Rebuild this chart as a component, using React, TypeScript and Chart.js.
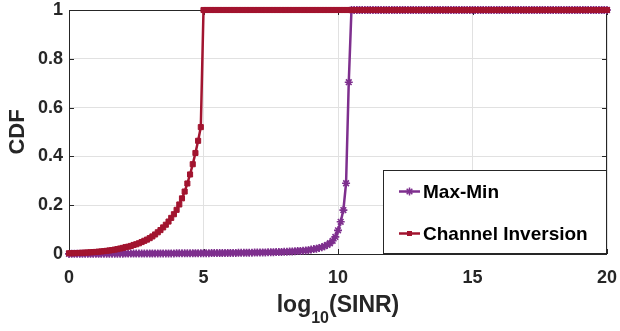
import { useEffect, useRef } from "react";
import { Chart, registerables } from "chart.js";

Chart.register(...registerables);

// log10(SINR) sample grid
const X_SINR = [
  0.0, 0.1, 0.2, 0.3, 0.4, 0.5, 0.6, 0.7, 0.8, 0.9,
  1.0, 1.1, 1.2, 1.3, 1.4, 1.5, 1.6, 1.7, 1.8, 1.9,
  2.0, 2.1, 2.2, 2.3, 2.4, 2.5, 2.6, 2.7, 2.8, 2.9,
  3.0, 3.1, 3.2, 3.3, 3.4, 3.5, 3.6, 3.7, 3.8, 3.9,
  4.0, 4.1, 4.2, 4.3, 4.4, 4.5, 4.6, 4.7, 4.8, 4.9,
  5.0, 5.1, 5.2, 5.3, 5.4, 5.5, 5.6, 5.7, 5.8, 5.9,
  6.0, 6.1, 6.2, 6.3, 6.4, 6.5, 6.6, 6.7, 6.8, 6.9,
  7.0, 7.1, 7.2, 7.3, 7.4, 7.5, 7.6, 7.7, 7.8, 7.9,
  8.0, 8.1, 8.2, 8.3, 8.4, 8.5, 8.6, 8.7, 8.8, 8.9,
  9.0, 9.1, 9.2, 9.3, 9.4, 9.5, 9.6, 9.7, 9.8, 9.9,
  10.0, 10.1, 10.2, 10.3, 10.4, 10.5, 10.6, 10.7, 10.8, 10.9,
  11.0, 11.1, 11.2, 11.3, 11.4, 11.5, 11.6, 11.7, 11.8, 11.9,
  12.0, 12.1, 12.2, 12.3, 12.4, 12.5, 12.6, 12.7, 12.8, 12.9,
  13.0, 13.1, 13.2, 13.3, 13.4, 13.5, 13.6, 13.7, 13.8, 13.9,
  14.0, 14.1, 14.2, 14.3, 14.4, 14.5, 14.6, 14.7, 14.8, 14.9,
  15.0, 15.1, 15.2, 15.3, 15.4, 15.5, 15.6, 15.7, 15.8, 15.9,
  16.0, 16.1, 16.2, 16.3, 16.4, 16.5, 16.6, 16.7, 16.8, 16.9,
  17.0, 17.1, 17.2, 17.3, 17.4, 17.5, 17.6, 17.7, 17.8, 17.9,
  18.0, 18.1, 18.2, 18.3, 18.4, 18.5, 18.6, 18.7, 18.8, 18.9,
  19.0, 19.1, 19.2, 19.3, 19.4, 19.5, 19.6, 19.7, 19.8, 19.9,
  20.0,
];

const MAX_MIN = [
  0.0005, 0.0006, 0.0006, 0.0007, 0.0007, 0.0008, 0.0008, 0.0009, 0.0009, 0.001,
  0.001, 0.0011, 0.0011, 0.0012, 0.0012, 0.0013, 0.0013, 0.0014, 0.0014, 0.0015,
  0.0015, 0.0016, 0.0016, 0.0017, 0.0017, 0.0018, 0.0018, 0.0019, 0.0019, 0.002,
  0.002, 0.0021, 0.0021, 0.0022, 0.0022, 0.0023, 0.0023, 0.0024, 0.0025, 0.0025,
  0.0026, 0.0027, 0.0027, 0.0028, 0.0029, 0.0029, 0.003, 0.0031, 0.0031, 0.0032,
  0.0033, 0.0034, 0.0035, 0.0036, 0.0037, 0.0038, 0.0039, 0.004, 0.0041, 0.0042,
  0.0044, 0.0045, 0.0046, 0.0048, 0.0049, 0.0051, 0.0052, 0.0054, 0.0056, 0.0058,
  0.006, 0.0062, 0.0064, 0.0066, 0.0069, 0.0071, 0.0074, 0.0077, 0.008, 0.0083,
  0.009, 0.0095, 0.01, 0.0106, 0.0113, 0.012, 0.0128, 0.0137, 0.0147, 0.0158,
  0.018, 0.02, 0.022, 0.025, 0.028, 0.032, 0.037, 0.044, 0.054, 0.07,
  0.097, 0.132, 0.18, 0.29, 0.704, 1, 1, 1, 1, 1,
  1, 1, 1, 1, 1, 1, 1, 1, 1, 1,
  1, 1, 1, 1, 1, 1, 1, 1, 1, 1,
  1, 1, 1, 1, 1, 1, 1, 1, 1, 1,
  1, 1, 1, 1, 1, 1, 1, 1, 1, 1,
  1, 1, 1, 1, 1, 1, 1, 1, 1, 1,
  1, 1, 1, 1, 1, 1, 1, 1, 1, 1,
  1, 1, 1, 1, 1, 1, 1, 1, 1, 1,
  1, 1, 1, 1, 1, 1, 1, 1, 1, 1,
  1, 1, 1, 1, 1, 1, 1, 1, 1, 1,
  1,
];

const CHANNEL_INVERSION = [
  0.003, 0.0033, 0.0036, 0.004, 0.0045, 0.005, 0.0056, 0.0062, 0.0069, 0.0077,
  0.0085, 0.0095, 0.0105, 0.0117, 0.013, 0.0145, 0.016, 0.018, 0.02, 0.0225,
  0.025, 0.028, 0.03, 0.033, 0.037, 0.04, 0.044, 0.049, 0.054, 0.059,
  0.065, 0.072, 0.08, 0.089, 0.098, 0.109, 0.12, 0.133, 0.148, 0.163,
  0.181, 0.203, 0.228, 0.256, 0.289, 0.326, 0.368, 0.414, 0.464, 0.52,
  1, 1, 1, 1, 1, 1, 1, 1, 1, 1,
  1, 1, 1, 1, 1, 1, 1, 1, 1, 1,
  1, 1, 1, 1, 1, 1, 1, 1, 1, 1,
  1, 1, 1, 1, 1, 1, 1, 1, 1, 1,
  1, 1, 1, 1, 1, 1, 1, 1, 1, 1,
  1, 1, 1, 1, 1, 1, 1, 1, 1, 1,
  1, 1, 1, 1, 1, 1, 1, 1, 1, 1,
  1, 1, 1, 1, 1, 1, 1, 1, 1, 1,
  1, 1, 1, 1, 1, 1, 1, 1, 1, 1,
  1, 1, 1, 1, 1, 1, 1, 1, 1, 1,
  1, 1, 1, 1, 1, 1, 1, 1, 1, 1,
  1, 1, 1, 1, 1, 1, 1, 1, 1, 1,
  1, 1, 1, 1, 1, 1, 1, 1, 1, 1,
  1, 1, 1, 1, 1, 1, 1, 1, 1, 1,
  1, 1, 1, 1, 1, 1, 1, 1, 1, 1,
  1,
];

const SERIES_NAMES = ["Max-Min", "Channel Inversion"];
const X_TICKS = [0, 5, 10, 15, 20];
const Y_TICKS = [0, 0.2, 0.4, 0.6, 0.8, 1];
const Y_TICK_LABELS = ["0", "0.2", "0.4", "0.6", "0.8", "1"];
const Y_TITLE = "CDF";

const PURPLE = "#7E2F8E";
const RED = "#A2142F";
const AXIS = "#262626";
const GRID = "#e1e1e1";
const FONT = '"Liberation Sans", Arial, sans-serif';

function drawStar(ctx: CanvasRenderingContext2D, x: number, y: number, r: number) {
  ctx.beginPath();
  for (let k = 0; k < 4; k++) {
    const a = (k * Math.PI) / 4;
    ctx.moveTo(x - Math.cos(a) * r, y - Math.sin(a) * r);
    ctx.lineTo(x + Math.cos(a) * r, y + Math.sin(a) * r);
  }
  ctx.stroke();
}

const framePlugin = {
  id: "frame",
  beforeDatasetsDraw(chart: any) {
    const { ctx, chartArea: a, scales } = chart;
    ctx.save();
    ctx.strokeStyle = AXIS;
    ctx.lineWidth = 1;
    ctx.strokeRect(a.left + 0.5, a.top + 0.5, a.right - a.left - 1, a.bottom - a.top);
    const tl = 5;
    ctx.beginPath();
    X_TICKS.forEach((v) => {
      const px = Math.round(scales.x.getPixelForValue(v)) + 0.5;
      ctx.moveTo(px, a.bottom);
      ctx.lineTo(px, a.bottom - tl);
      ctx.moveTo(px, a.top);
      ctx.lineTo(px, a.top + tl);
    });
    Y_TICKS.forEach((v) => {
      const py = Math.round(scales.y.getPixelForValue(v)) + 0.5;
      ctx.moveTo(a.left, py);
      ctx.lineTo(a.left + tl, py);
      ctx.moveTo(a.right, py);
      ctx.lineTo(a.right - tl, py);
    });
    ctx.stroke();
    ctx.restore();
  },
  afterDraw(chart: any) {
    const { ctx, chartArea: a } = chart;
    ctx.save();
    // Legend box
    const bx = 383.5, by = 170.5, bw = 223, bh = 83;
    ctx.fillStyle = "#ffffff";
    ctx.fillRect(bx, by, bw, bh);
    ctx.strokeStyle = AXIS;
    ctx.lineWidth = 1;
    ctx.strokeRect(bx, by, bw, bh);
    const items = [
      { name: SERIES_NAMES[0], color: PURPLE, y: 191.5, marker: "star" },
      { name: SERIES_NAMES[1], color: RED, y: 233.5, marker: "rect" },
    ];
    items.forEach((it) => {
      ctx.strokeStyle = it.color;
      ctx.fillStyle = it.color;
      ctx.lineWidth = 2.5;
      ctx.beginPath();
      ctx.moveTo(399, it.y);
      ctx.lineTo(420, it.y);
      ctx.stroke();
      if (it.marker === "rect") {
        ctx.fillRect(409.5 - 2.5, it.y - 2.5, 5, 5);
      } else {
        ctx.lineWidth = 1.5;
        drawStar(ctx, 409.5, it.y, 4);
      }
      ctx.fillStyle = "#000000";
      ctx.font = `bold 19px ${FONT}`;
      ctx.textAlign = "left";
      ctx.textBaseline = "middle";
      ctx.fillText(it.name, 423, it.y + 1);
    });

    // Y title
    ctx.save();
    ctx.translate(18, (a.top + a.bottom) / 2);
    ctx.rotate(-Math.PI / 2);
    ctx.fillStyle = AXIS;
    ctx.font = `bold 22px ${FONT}`;
    ctx.textAlign = "center";
    ctx.textBaseline = "middle";
    ctx.fillText(Y_TITLE, 0, 0);
    ctx.restore();

    // X title with subscript
    const big = `bold 23px ${FONT}`;
    const small = `bold 16px ${FONT}`;
    ctx.fillStyle = AXIS;
    ctx.textBaseline = "alphabetic";
    ctx.textAlign = "left";
    ctx.font = big;
    const w1 = ctx.measureText("log").width;
    const w3 = ctx.measureText("(SINR)").width;
    ctx.font = small;
    const w2 = ctx.measureText("10").width;
    const cx = (a.left + a.right) / 2;
    let x = cx - (w1 + w2 + w3) / 2;
    const base = 312;
    ctx.font = big;
    ctx.fillText("log", x, base);
    x += w1;
    ctx.font = small;
    ctx.fillText("10", x, base + 11);
    x += w2;
    ctx.font = big;
    ctx.fillText("(SINR)", x, base);
    ctx.restore();
  },
};

export default function App() {
  const ref = useRef<HTMLCanvasElement | null>(null);
  useEffect(() => {
    if (!ref.current) return;
    const tickFont = { family: FONT, size: 18, weight: "bold" as const };
    const chart = new Chart(ref.current, {
      type: "line",
      data: {
        datasets: [
          {
            label: SERIES_NAMES[0],
            data: X_SINR.map((x, i) => ({ x, y: MAX_MIN[i] })),
            borderColor: PURPLE,
            backgroundColor: PURPLE,
            borderWidth: 2.5,
            pointStyle: "star",
            pointRadius: 4,
            pointBorderWidth: 1.6,
            pointBorderColor: PURPLE,
            pointBackgroundColor: PURPLE,
            tension: 0,
            clip: false as any,
            order: 1,
          },
          {
            label: SERIES_NAMES[1],
            data: X_SINR.map((x, i) => ({ x, y: CHANNEL_INVERSION[i] })),
            borderColor: RED,
            backgroundColor: RED,
            borderWidth: 2.5,
            pointStyle: "rect",
            pointRadius: 3.6,
            pointBorderWidth: 1,
            pointBorderColor: RED,
            pointBackgroundColor: RED,
            tension: 0,
            clip: false as any,
            order: 0,
          },
        ],
      },
      options: {
        animation: false,
        responsive: false,
        maintainAspectRatio: false,
        events: [],
        layout: { padding: { top: 10, right: 13, left: 0, bottom: 0 } },
        plugins: { legend: { display: false }, tooltip: { enabled: false } },
        scales: {
          x: {
            type: "linear",
            min: 0,
            max: 20,
            afterBuildTicks: (s: any) => {
              s.ticks = X_TICKS.map((v) => ({ value: v }));
            },
            ticks: { font: tickFont, color: AXIS, padding: 13, maxRotation: 0, autoSkip: false },
            grid: { color: GRID, drawTicks: false },
            border: { display: false },
            afterFit: (s: any) => {
              s.height = 77;
              s.paddingLeft = 0;
              s.paddingRight = 0;
            },
          },
          y: {
            type: "linear",
            min: 0,
            max: 1,
            afterBuildTicks: (s: any) => {
              s.ticks = Y_TICKS.map((v) => ({ value: v }));
            },
            ticks: {
              font: tickFont,
              color: AXIS,
              padding: 6,
              callback: (v: any) => {
                const i = Y_TICKS.findIndex((t) => Math.abs(t - Number(v)) < 1e-9);
                return i >= 0 ? Y_TICK_LABELS[i] : "";
              },
            },
            grid: { color: GRID, drawTicks: false },
            border: { display: false },
            afterFit: (s: any) => {
              s.width = 69;
              s.paddingTop = 0;
              s.paddingBottom = 0;
            },
          },
        },
      },
      plugins: [framePlugin],
    });
    return () => chart.destroy();
  }, []);
  return (
    <div style={{ position: "fixed", left: 0, top: 0, width: 620, height: 331, background: "#fff" }}>
      <canvas ref={ref} width={620} height={331} style={{ display: "block" }} />
    </div>
  );
}
